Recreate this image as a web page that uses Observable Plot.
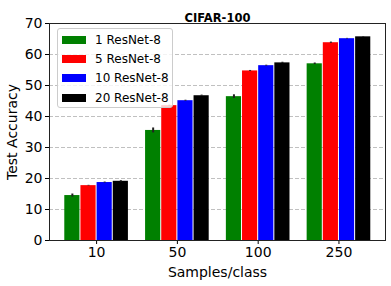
<!DOCTYPE html>
<html>
<head>
<meta charset="utf-8">
<script src="https://cdn.jsdelivr.net/npm/d3@7"></script>
<script src="https://cdn.jsdelivr.net/npm/@observablehq/plot@0.6"></script>
<style>
  html, body { margin: 0; padding: 0; background: #fff; }
  #wrap { position: relative; width: 391px; height: 286px; font-family: "DejaVu Sans", sans-serif; }
  #legend { position: absolute; left: 57px; top: 28px; width: 114px; height: 78px;
    background: rgba(255,255,255,0.8); border: 1px solid #cccccc; border-radius: 3px; }
  .row { position: absolute; left: 4px; height: 19px; display: flex; align-items: center; font-size: 12px; color: #000; }
  .sw { width: 24px; height: 8px; margin-right: 9px; }
</style>
</head>
<body>
<div id="wrap"></div>
<script>
const groups = ["10", "50", "100", "250"];
const series = ["1 ResNet-8", "5 ResNet-8", "10 ResNet-8", "20 ResNet-8"];
const colors = ["green", "red", "blue", "black"];
const acc1 = [14.5, 35.5, 46.4, 57.0];
const acc5 = [17.7, 43.5, 54.7, 63.8];
const acc10 = [18.7, 45.1, 56.4, 65.1];
const acc20 = [19.1, 46.7, 57.3, 65.7];
const err1 = [0.5, 0.8, 0.6, 0.25];
const err5 = [0.1, 0.15, 0.15, 0.2];
const err10 = [0.15, 0.15, 0.15, 0.1];
const err20 = [0.2, 0.2, 0.2, 0.1];
const yTicks = [0, 10, 20, 30, 40, 50, 60, 70];
const gridTicks = [10, 20, 30, 40, 50, 60];

const accs = [acc1, acc5, acc10, acc20];
const errs = [err1, err5, err10, err20];
const rows = [];
groups.forEach((g, gi) => series.forEach((s, si) => {
  rows.push({gi, si, group: g, series: s, value: accs[si][gi], err: errs[si][gi]});
}));
const W = 0.2;

const chart = Plot.plot({
  width: 391,
  height: 286,
  marginTop: 23,
  marginBottom: 46,
  marginLeft: 49,
  marginRight: 6,
  style: {fontFamily: "DejaVu Sans, sans-serif", fontSize: "14px", color: "#000", background: "#fff"},
  x: {domain: [-0.583, 3.576]},
  y: {domain: [0, 70]},
  color: {domain: series, range: colors},
  marks: [
    Plot.ruleY(gridTicks, {stroke: "#b0b0b0", strokeDasharray: "4,2", strokeWidth: 0.8}),
    Plot.rectY(rows, {
      x1: d => d.gi + (d.si - 2) * W,
      x2: d => d.gi + (d.si - 1) * W,
      y: "value",
      fill: "series",
      insetLeft: 0.5,
      insetRight: 0.5
    }),
    Plot.ruleX(rows, {
      x: d => d.gi + (d.si - 1.5) * W,
      y1: d => d.value - d.err,
      y2: d => d.value + d.err,
      stroke: "#222",
      strokeWidth: 2
    }),
    Plot.axisX({
      ticks: [0, 1, 2, 3],
      tickFormat: i => groups[i],
      tickSize: 4,
      tickPadding: 3,
      fontSize: 14,
      label: "Samples/class",
      labelAnchor: "center",
      labelArrow: "none",
      labelOffset: 36
    }),
    Plot.axisY({
      ticks: yTicks,
      tickSize: 4,
      tickPadding: 3,
      fontSize: 14,
      label: "Test Accuracy",
      labelAnchor: "center",
      labelArrow: "none",
      labelOffset: 42
    }),
    Plot.frame({stroke: "#222"}),
    Plot.text(["CIFAR-100"], {frameAnchor: "top", dy: -10, fontWeight: "bold", fontSize: 11.5, fill: "#000"})
  ]
});

const wrap = document.getElementById("wrap");
wrap.appendChild(chart);

const legend = document.createElement("div");
legend.id = "legend";
series.forEach((s, i) => {
  const row = document.createElement("div");
  row.className = "row";
  row.style.top = (1.5 + i * 19.2) + "px";
  const sw = document.createElement("div");
  sw.className = "sw";
  sw.style.background = colors[i];
  const t = document.createElement("span");
  t.textContent = s;
  row.appendChild(sw);
  row.appendChild(t);
  legend.appendChild(row);
});
wrap.appendChild(legend);
</script>
</body>
</html>
